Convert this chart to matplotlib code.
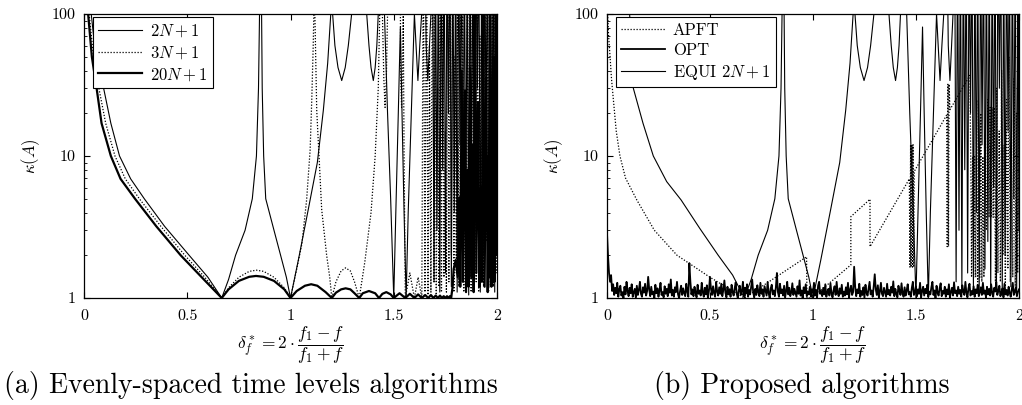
import numpy as np
import matplotlib
matplotlib.use("Agg")
import matplotlib.pyplot as plt
from matplotlib.ticker import LogLocator, NullFormatter

plt.rcParams["font.family"] = "serif"
plt.rcParams["font.serif"] = ["cmr10"]
plt.rcParams["mathtext.fontset"] = "cm"
plt.rcParams["axes.formatter.use_mathtext"] = True

# ---- data (kappa values above 100 are off-scale) ----
XTICKS = [0, 0.5, 1, 1.5, 2]
XTICK_LABELS = ["0", "0.5", "1", "1.5", "2"]
YTICKS = [1, 10, 100]
YTICK_LABELS = ["1", "10", "100"]

# 2N+1 (same tail is the EQUI 2N+1 curve of panel b)
EVEN2_HEAD_X = [0.03, 0.035, 0.057, 0.095, 0.13, 0.172, 0.226, 0.292, 0.39,
                0.509, 0.6]
EVEN2_HEAD_Y = [400, 100, 50, 30, 17, 10, 6.9, 5, 3.2, 2, 1.4]
EQUI_HEAD_X = [0.095, 0.11, 0.128, 0.175, 0.225, 0.29, 0.36, 0.45, 0.54, 0.61]
EQUI_HEAD_Y = [400, 100, 30, 17, 10, 6.6, 4.9, 3.1, 2, 1.45]
EVEN2_TAIL_X = [0.667, 0.70, 0.734, 0.78, 0.815, 0.835, 0.845, 0.85, 0.853,
                0.857, 0.86, 0.863, 0.87, 0.88, 0.92, 0.952, 0.98, 1.0,
                1.038, 1.086, 1.13, 1.159, 1.18, 1.195, 1.2, 1.204, 1.215,
                1.23, 1.248, 1.265, 1.28, 1.296, 1.33, 1.369, 1.38, 1.39,
                1.401, 1.41, 1.418, 1.425, 1.44, 1.455, 1.47, 1.485, 1.5,
                1.51, 1.522, 1.532, 1.54, 1.55, 1.56, 1.57, 1.585, 1.6,
                1.608, 1.617, 1.626, 1.635, 1.65, 1.657, 1.665, 1.673, 1.68,
                1.688,
                1.695, 1.702, 1.709, 1.716, 1.723, 1.730, 1.737, 1.744, 1.751,
                1.758, 1.765, 1.772, 1.779, 1.786, 1.793, 1.800, 1.807, 1.814,
                1.821, 1.828, 1.835, 1.842, 1.849, 1.856, 1.863, 1.870, 1.877,
                1.884, 1.891, 1.898, 1.905, 1.912, 1.919, 1.926, 1.933, 1.940,
                1.947, 1.954, 1.961, 1.968, 1.975, 1.982, 1.989, 1.996, 2.0]
EVEN2_TAIL_Y = [1, 1.35, 2, 3, 5, 10, 30, 100, 400,
                400, 100, 30, 10, 5, 3, 2, 1.4, 1,
                1.85, 4.2, 9, 21, 45, 100, 400, 100, 60,
                42, 34, 42, 60, 100, 400, 100, 60, 42,
                34, 42, 60, 100, 400, 100, 20, 5, 1,
                4, 20, 81, 20, 4, 1, 4, 20, 100,
                60, 34, 60, 100, 400, 60, 34, 60, 100,
                400,
                1.3, 400, 3, 400, 1.1, 400, 8, 400, 1.5,
                400, 20, 400, 1.2, 400, 4, 400, 1.1, 400,
                12, 400, 1.6, 400, 2.5, 400, 1.05, 400, 6,
                400, 1.3, 400, 30, 400, 1.1, 400, 2, 400,
                15, 400, 1.2, 400, 5, 400, 1.1, 400, 3]

# 3N+1
EVEN3_X = [0.02, 0.025, 0.046, 0.072, 0.105, 0.15, 0.2, 0.268, 0.372, 0.488,
           0.585, 0.667,
           0.70, 0.75, 0.80, 0.835, 0.87, 0.92, 0.97, 1.0,
           1.03, 1.055, 1.078, 1.095, 1.103, 1.11, 1.113, 1.114,
           1.116, 1.118, 1.127, 1.151, 1.175, 1.19, 1.2,
           1.22, 1.245, 1.267, 1.29, 1.31, 1.333,
           1.36, 1.39, 1.41, 1.425, 1.432, 1.436,
           1.44, 1.445, 1.452, 1.458, 1.464, 1.47, 1.475,
           1.53, 1.534, 1.538, 1.542, 1.546, 1.55, 1.556,
           1.578, 1.6, 1.618, 1.636,
           1.643, 1.651, 1.659, 1.666, 1.673, 1.68, 1.688, 1.695, 1.70,
           1.706, 1.713, 1.719, 1.725, 1.731, 1.737, 1.743, 1.749, 1.755,
           1.761, 1.767, 1.773, 1.779, 1.785, 1.791, 1.797, 1.803, 1.809,
           1.815, 1.821, 1.827, 1.833, 1.839, 1.845, 1.851, 1.857, 1.863,
           1.869, 1.875, 1.881, 1.887, 1.893, 1.899, 1.905, 1.911, 1.917,
           1.923, 1.929, 1.935, 1.941, 1.947, 1.953, 1.959, 1.965, 1.971,
           1.977, 1.983, 1.989, 1.995, 2.0]
EVEN3_Y = [400, 100, 50, 30, 17, 10, 6.9, 5, 3.2, 2,
           1.4, 1,
           1.18, 1.4, 1.54, 1.57, 1.54, 1.4, 1.18, 1,
           1.6, 2.4, 4.9, 11, 25, 60, 100, 400,
           400, 100, 21, 4.2, 2, 1.4, 1,
           1.3, 1.55, 1.63, 1.55, 1.3, 1,
           1.8, 4, 10, 30, 100, 400,
           400, 100, 35, 22, 35, 100, 400,
           400, 35, 22, 35, 100, 10, 1,
           1.5, 1, 1.4, 1,
           400, 1.1, 400, 1.05, 60, 1.1, 400, 1.3, 400,
           1.05, 30, 1.2, 400, 1.1, 400, 1.4, 15, 1.1,
           400, 1.3, 400, 2, 400, 1.1, 50, 1.5, 400,
           1.2, 400, 3, 400, 1.1, 20, 1.6, 400, 1.2,
           400, 1.1, 400, 4, 400, 1.3, 400, 1.1, 70,
           1.4, 400, 1.2, 400, 2.5, 400, 1.1, 400, 1.3,
           400, 1.2, 400, 1.5, 400]

# 20N+1
EVEN20_X = [0.016, 0.02, 0.038, 0.061, 0.085, 0.13, 0.177, 0.247, 0.35, 0.468,
            0.57, 0.667,
            0.70, 0.75, 0.80, 0.833, 0.87, 0.92, 0.97, 1.0,
            1.03, 1.07, 1.1, 1.13, 1.17, 1.2,
            1.22, 1.245, 1.267, 1.29, 1.31, 1.333,
            1.35, 1.38, 1.41, 1.4286,
            1.445, 1.464, 1.485, 1.5,
            1.528, 1.556, 1.578, 1.6, 1.618, 1.636, 1.652, 1.667, 1.68, 1.692,
            1.703, 1.714, 1.724, 1.733, 1.742, 1.75, 1.758, 1.765, 1.772,
            1.778,
            1.785, 1.79, 1.80, 1.81, 1.817, 1.822, 1.829, 1.835, 1.845, 1.85,
            1.858, 1.862, 1.869, 1.875, 1.882, 1.887, 1.893, 1.9, 1.908,
            1.915, 1.922, 1.927, 1.932, 1.94, 1.948, 1.955, 1.96, 1.963,
            1.966, 1.973, 1.978, 1.982, 1.988, 1.995, 2.0]
EVEN20_Y = [400, 100, 50, 30, 17, 10, 6.9, 5, 3.2, 2,
            1.4, 1,
            1.15, 1.32, 1.41, 1.43, 1.41, 1.32, 1.15, 1,
            1.12, 1.22, 1.25, 1.22, 1.1, 1,
            1.09, 1.15, 1.17, 1.15, 1.08, 1,
            1.08, 1.12, 1.08, 1,
            1.07, 1.1, 1.06, 1,
            1.08, 1, 1.07, 1, 1.06, 1, 1.05, 1, 1.05, 1,
            1.04, 1, 1.04, 1, 1.03, 1, 1.03, 1, 1.03,
            1,
            1.2, 1.6, 1.85, 1.4, 5.1, 1.2, 40, 1.3, 29, 1.1,
            8, 1.2, 42, 1.4, 12, 1.1, 400, 1.5, 24,
            1.2, 6, 1.3, 400, 1.2, 36, 1.1, 10, 1.4,
            400, 1.2, 20, 50, 1.3, 400, 2]

# APFT
APFT_X = [0.003, 0.008, 0.015, 0.022, 0.031, 0.045, 0.063, 0.09, 0.145, 0.23,
          0.34, 0.5, 0.62, 0.667,
          0.969, 0.971, 0.994, 1.184, 1.184, 1.277, 1.277, 1.468,
          1.471, 1.474, 1.477, 1.480, 1.483, 1.486, 1.489, 1.492,
          1.649, 1.652, 1.655, 1.658, 1.661, 1.665, 1.762,
          1.766, 1.77, 1.775, 1.78, 1.785, 1.79, 1.795, 1.80, 1.805, 1.81,
          1.815, 1.82, 1.825, 1.83, 1.835, 1.842, 1.85, 1.855, 1.86, 1.865,
          1.87, 1.875, 1.88, 1.886, 1.892, 1.898, 1.904, 1.91, 1.916, 1.922,
          1.928, 1.934, 1.94, 1.946, 1.952, 1.958, 1.964, 1.97, 1.976,
          1.982, 1.988, 1.994, 2.0]
APFT_Y = [100, 70, 50, 35, 25, 15, 10, 7, 4.9, 3,
          2, 1.4, 1.1, 1.0,
          1.95, 1.0, 1.0, 1.71, 3.74, 4.96, 2.3, 6.9,
          1.65, 12, 1.65, 12, 1.65, 12, 1.65, 7.8,
          19.4, 2.3, 32, 2.3, 32, 21.2, 37,
          9.8, 1.4, 9.9, 1.4, 9.9, 1.4, 24.8, 1.3, 9.9, 1.4,
          20, 1.3, 9.9, 1.4, 9.9, 3, 25, 3.7, 22, 3.7,
          22, 3.7, 22, 1.3, 30, 1.5, 15, 1.3, 40, 2,
          12, 1.2, 25, 1.6, 50, 1.3, 18, 1.4, 35,
          1.2, 20, 1.5, 30]

# OPT, sampled every 0.005 from 0 to 2
OPT_Y = [2.9, 2.0, 1.5, 1.3, 1.45, 1.12, 1.25, 1.05, 1.18, 1.08,
         1.28, 1.02, 1.15, 1.22, 1.04, 1.1, 1.0, 1.2, 1.06, 1.3,
         1.12, 1.03, 1.18, 1.08, 1.25, 1.02, 1.1, 1.16, 1.01, 1.22,
         1.05, 1.14, 1.3, 1.07, 1.02, 1.19, 1.09, 1.26, 1.04, 1.12,
         1.41, 1.15, 1.03, 1.2, 1.06, 1.11, 1.0, 1.24, 1.08, 1.17,
         1.02, 1.13, 1.28, 1.05, 1.1, 1.01, 1.21, 1.07, 1.16, 1.03,
         1.25, 1.09, 1.35, 1.04, 1.14, 1.02, 1.19, 1.1, 1.3, 1.06,
         1.0, 1.12, 1.22, 1.05, 1.17, 1.08, 1.03, 1.26, 1.11, 1.02,
         1.76, 1.3, 1.06, 1.15, 1.03, 1.2, 1.09, 1.01, 1.24, 1.07,
         1.13, 1.04, 1.28, 1.1, 1.02, 1.18, 1.06, 1.23, 1.0, 1.12,
         1.41, 1.16, 1.05, 1.21, 1.08, 1.02, 1.3, 1.11, 1.04, 1.19,
         1.07, 1.26, 1.03, 1.14, 1.33, 1.09, 1.01, 1.2, 1.06, 1.15,
         1.02, 1.24, 1.1, 1.04, 1.17, 1.29, 1.07, 1.0, 1.13, 1.22,
         1.05, 1.11, 1.3, 1.03, 1.18, 1.08, 1.25, 1.02, 1.14, 1.06,
         1.2, 1.35, 1.09, 1.01, 1.16, 1.05, 1.23, 1.1, 1.03, 1.28,
         1.07, 1.15, 1.02, 1.21, 1.12, 1.04, 1.3, 1.08, 1.0, 1.17,
         1.24, 1.06, 1.13, 1.03, 1.19, 1.5, 1.1, 1.02, 1.26, 1.08,
         1.15, 1.04, 1.22, 1.01, 1.12, 1.3, 1.06, 1.18, 1.03, 1.1,
         1.27, 1.05, 1.16, 1.09, 1.02, 1.21, 1.07, 1.33, 1.04, 1.13,
         1.0, 1.19, 1.08, 1.25, 1.03, 1.11, 1.06, 1.2, 1.02, 1.15,
         1.09, 1.28, 1.04, 1.14, 1.01, 1.22, 1.3, 1.07, 1.12, 1.03,
         1.18, 1.06, 1.25, 1.02, 1.1, 1.16, 1.04, 1.27, 1.08, 1.01,
         1.13, 1.21, 1.05, 1.3, 1.09, 1.03, 1.17, 1.07, 1.24, 1.02,
         1.11, 1.04, 1.19, 1.06, 1.28, 1.01, 1.14, 1.22, 1.05, 1.1,
         1.66, 1.2, 1.03, 1.15, 1.08, 1.26, 1.02, 1.12, 1.05, 1.19,
         1.0, 1.24, 1.09, 1.04, 1.17, 1.3, 1.06, 1.13, 1.02, 1.21,
         1.47, 1.15, 1.05, 1.23, 1.01, 1.11, 1.28, 1.07, 1.03, 1.18,
         1.1, 1.02, 1.26, 1.06, 1.14, 1.04, 1.2, 1.09, 1.31, 1.03,
         1.16, 1.07, 1.01, 1.22, 1.12, 1.05, 1.27, 1.08, 1.02, 1.19,
         1.04, 1.13, 1.25, 1.06, 1.1, 1.02, 1.18, 1.3, 1.05, 1.09,
         1.21, 1.03, 1.15, 1.07, 1.28, 1.01, 1.12, 1.2, 1.04, 1.16,
         1.08, 1.24, 1.02, 1.11, 1.06, 1.19, 1.3, 1.05, 1.13, 1.0,
         1.22, 1.09, 1.04, 1.17, 1.27, 1.03, 1.12, 1.07, 1.2, 1.02,
         1.15, 1.06, 1.25, 1.01, 1.1, 1.18, 1.04, 1.29, 1.08, 1.13,
         1.03, 1.2, 1.07, 1.14, 1.02, 1.23, 1.11, 1.05, 1.3, 1.09,
         1.01, 1.17, 1.26, 1.04, 1.12, 1.06, 1.21, 1.02, 1.15, 1.08,
         1.24, 1.03, 1.1, 1.19, 1.05, 1.28, 1.07, 1.13, 1.01, 1.2,
         1.06, 1.16, 1.04, 1.25, 1.09, 1.02, 1.18, 1.11, 1.3, 1.05,
         1.12, 1.22, 1.03, 1.08, 1.17, 1.01, 1.26, 1.06, 1.14, 1.04,
         1.2, 1.09, 1.02, 1.15, 1.28, 1.05, 1.11, 1.19, 1.03, 1.1,
         1.15]
OPT_X = np.linspace(0, 2, len(OPT_Y))

XLABEL = r"$\delta_f^* = 2 \cdot \dfrac{f_1 - f}{f_1 + f}$"

THIN = dict(color="black", lw=0.8)
DOTTED = dict(color="black", lw=0.9, ls=(0, (1, 1.4)))
THICK = dict(color="black", lw=1.6)
NOISY = dict(color="black", lw=1.3)


def style_axes(ax):
    ax.set_yscale("log")
    ax.set_xlim(0, 2)
    ax.set_ylim(1, 100)
    ax.set_xticks(XTICKS)
    ax.set_xticklabels(XTICK_LABELS)
    ax.set_yticks(YTICKS)
    ax.set_yticklabels(YTICK_LABELS)
    ax.yaxis.set_minor_locator(LogLocator(subs=range(2, 10)))
    ax.yaxis.set_minor_formatter(NullFormatter())
    ax.tick_params(which="both", direction="in", top=True, right=True,
                   labelsize=11.5)
    ax.tick_params(which="major", length=4, width=0.8)
    ax.tick_params(which="minor", length=2.5, width=0.6)
    ax.tick_params(axis="x", pad=8)
    ax.tick_params(axis="y", pad=6)
    ax.set_xlabel(XLABEL, fontsize=12.5, labelpad=1)
    ax.set_ylabel(r"$\kappa(A)$", fontsize=12, labelpad=7)
    for sp in ax.spines.values():
        sp.set_linewidth(0.9)
    leg = ax.legend(loc="upper left", bbox_to_anchor=(0.0226, 0.988),
                    borderaxespad=0, fancybox=False, edgecolor="black",
                    framealpha=1, fontsize=12, handlelength=2.6,
                    borderpad=0.3, labelspacing=0.3, handletextpad=0.5)
    leg.get_frame().set_linewidth(0.8)


fig = plt.figure(figsize=(10.22, 4.05), dpi=100)
ax_a = fig.add_axes([0.0822, 0.2642, 0.4041, 0.7012])
ax_b = fig.add_axes([0.5939, 0.2642, 0.4031, 0.7012])

ax_a.plot(EVEN2_HEAD_X + EVEN2_TAIL_X, EVEN2_HEAD_Y + EVEN2_TAIL_Y,
          label=r"$2N + 1$", **THIN)
ax_a.plot(EVEN3_X, EVEN3_Y, label=r"$3N + 1$", **DOTTED)
ax_a.plot(EVEN20_X, EVEN20_Y, label=r"$20N + 1$", **THICK)
style_axes(ax_a)

ax_b.plot(APFT_X, APFT_Y, label="APFT", **DOTTED)
ax_b.plot(OPT_X, OPT_Y, label="OPT", **NOISY)
ax_b.plot(EQUI_HEAD_X + EVEN2_TAIL_X, EQUI_HEAD_Y + EVEN2_TAIL_Y,
          label=r"EQUI $2N + 1$", **THIN)
style_axes(ax_b)

fig.text(251 / 1022, 1 - 385 / 405, "(a) Evenly-spaced time levels algorithms",
         ha="center", va="center", fontsize=20)
fig.text(802 / 1022, 1 - 385 / 405, "(b) Proposed algorithms",
         ha="center", va="center", fontsize=20)

fig.savefig("out.png", dpi=100)
